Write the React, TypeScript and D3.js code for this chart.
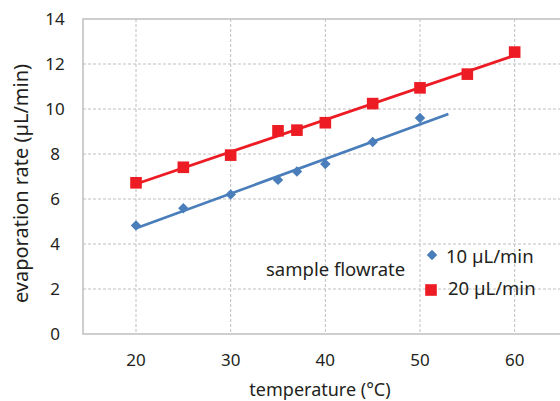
import React from "react";
import * as d3 from "d3";

// temperature (°C) and evaporation rate (µL/min)
const temp10 = [20, 25, 30, 35, 37, 40, 45, 50];
const rate10 = [4.82, 5.59, 6.2, 6.85, 7.22, 7.56, 8.53, 9.6];
const temp20 = [20, 25, 30, 35, 37, 40, 45, 50, 55, 60];
const rate20 = [6.72, 7.41, 7.95, 9.03, 9.06, 9.39, 10.24, 10.94, 11.55, 12.53];

const xTicks = [20, 30, 40, 50, 60];
const yTicks = [0, 2, 4, 6, 8, 10, 12, 14];
const seriesNames = ["10 µL/min", "20 µL/min"];

const W = 560;
const H = 401;
const margin = { top: 19, right: -2, bottom: 67, left: 83 };

const BLUE = "#4a7ebb";
const RED = "#ed1c24";
const GRID = "#bfbfbf";
const TEXT = "#231f20";

// least squares trendline, like the spreadsheet one
const fit = (xs: number[], ys: number[]) => {
  const mx = d3.mean(xs) as number;
  const my = d3.mean(ys) as number;
  const sxy = d3.sum(xs, (x, i) => (x - mx) * (ys[i] - my));
  const sxx = d3.sum(xs, (x) => (x - mx) ** 2);
  const b = sxy / sxx;
  return (x: number) => my + b * (x - mx);
};

const App = () => {
  const x = d3
    .scaleLinear()
    .domain([14.4, 65])
    .range([margin.left, W - margin.right]);
  const y = d3
    .scaleLinear()
    .domain([0, 14])
    .range([H - margin.bottom, margin.top]);

  const line = d3
    .line<[number, number]>()
    .x((d) => x(d[0]))
    .y((d) => y(d[1]));

  const f10 = fit(temp10, rate10);
  const f20 = fit(temp20, rate20);
  const trend10: [number, number][] = [20, 53].map((t) => [t, f10(t)]);
  const trend20: [number, number][] = [20, 60].map((t) => [t, f20(t)]);

  const diamond = d3.symbol().type(d3.symbolDiamond2).size(70)();
  const square = d3.symbol().type(d3.symbolSquare).size(135)();

  const font = "'Noto Sans', 'Open Sans', sans-serif";
  const x0 = margin.left;
  const x1 = W - margin.right;
  const y0 = H - margin.bottom;
  const y1 = margin.top;

  return (
    <svg
      width={W}
      height={H}
      style={{ position: "absolute", left: 0, top: 0, background: "#fff" }}
      fontFamily={font}
    >
      {/* grid */}
      <g stroke={GRID} strokeWidth={1} strokeDasharray="3,2">
        {xTicks.map((t) => (
          <line key={t} x1={x(t)} x2={x(t)} y1={y1} y2={y0} />
        ))}
        {yTicks
          .filter((t) => t > 0 && t < 14)
          .map((t) => (
            <line key={t} x1={x0} x2={x1} y1={y(t)} y2={y(t)} />
          ))}
      </g>
      {/* frame */}
      <path
        d={`M${x1},${y1}H${x0}V${y0}H${x1}`}
        fill="none"
        stroke={GRID}
        strokeWidth={1.5}
      />

      {/* trendlines */}
      <path d={line(trend10) ?? ""} fill="none" stroke={BLUE} strokeWidth={2.8} />
      <path d={line(trend20) ?? ""} fill="none" stroke={RED} strokeWidth={2.8} />

      {/* markers */}
      {temp10.map((t, i) => (
        <path
          key={"b" + i}
          d={diamond ?? ""}
          transform={`translate(${x(t)},${y(rate10[i])})`}
          fill={BLUE}
        />
      ))}
      {temp20.map((t, i) => (
        <path
          key={"r" + i}
          d={square ?? ""}
          transform={`translate(${x(t)},${y(rate20[i])})`}
          fill={RED}
        />
      ))}

      {/* tick labels */}
      <g fill={TEXT} fontSize={17}>
        {xTicks.map((t) => (
          <text key={t} x={x(t)} y={y0 + 32} textAnchor="middle">
            {t}
          </text>
        ))}
        {yTicks.map((t) => (
          <text
            key={t}
            x={55}
            y={y(t)}
            dy="0.35em"
            textAnchor="middle"
          >
            {t}
          </text>
        ))}
      </g>

      {/* axis titles */}
      <text
        x={320}
        y={396}
        textAnchor="middle"
        fontSize={18}
        fill={TEXT}
      >
        temperature (°C)
      </text>
      <text
        transform={`translate(28,${(y0 + y1) / 2 + 7}) rotate(-90)`}
        textAnchor="middle"
        fontSize={20}
        fill={TEXT}
      >
        evaporation rate (µL/min)
      </text>

      {/* legend */}
      <text x={266} y={276} fontSize={18.5} fill={TEXT}>
        sample flowrate
      </text>
      <path d={diamond ?? ""} transform="translate(432,255)" fill={BLUE} />
      <text x={446} y={257} dy="0.35em" fontSize={18.5} fill={TEXT}>
        {seriesNames[0]}
      </text>
      <path d={square ?? ""} transform="translate(431,290)" fill={RED} />
      <text x={448} y={289} dy="0.35em" fontSize={18.5} fill={TEXT}>
        {seriesNames[1]}
      </text>
    </svg>
  );
};

export default App;
